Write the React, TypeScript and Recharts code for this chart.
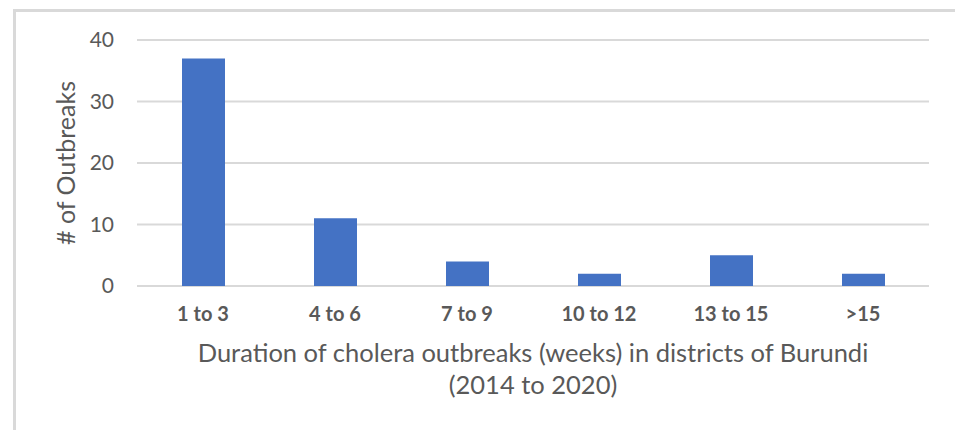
import React from 'react';
import { BarChart, Bar, XAxis, YAxis, CartesianGrid } from 'recharts';

const categories = ['1 to 3', '4 to 6', '7 to 9', '10 to 12', '13 to 15', '>15'];
const outbreaks = [37, 11, 4, 2, 5, 2];
const yTicks = [0, 10, 20, 30, 40];
const xTitleLines = ['Duration of cholera outbreaks (weeks) in districts of Burundi', '(2014 to 2020)'];
const yTitle = '# of Outbreaks';

const data = categories.map((c, i) => ({ name: c, value: outbreaks[i] }));

const FONT = 'Lato, "Open Sans", sans-serif';
const GRAY = '#595959';

const XTitle = (props: any) => {
  const vb = props.viewBox || {};
  const cx = vb.x + vb.width / 2;
  return (
    <text x={cx} y={vb.y + 76} textAnchor="middle" fill={GRAY} fontFamily={FONT} fontSize={25.5}>
      <tspan x={cx} y={vb.y + 76}>{xTitleLines[0]}</tspan>
      <tspan x={cx} y={vb.y + 108}>{xTitleLines[1]}</tspan>
    </text>
  );
};

const YTitle = (props: any) => {
  const vb = props.viewBox || {};
  const cy = vb.y + vb.height / 2;
  const cx = 65;
  return (
    <text
      x={cx}
      y={cy}
      textAnchor="middle"
      dominantBaseline="central"
      transform={`rotate(-90, ${cx}, ${cy})`}
      fill={GRAY}
      fontFamily={FONT}
      fontSize={25}
    >
      {yTitle}
    </text>
  );
};

export default function App() {
  return (
    <div style={{ position: 'fixed', left: 0, top: 0, width: 955, height: 430, background: '#fff' }}>
      <div
        style={{
          position: 'absolute',
          left: 13,
          top: 9,
          right: 0,
          bottom: 0,
          borderTop: '3px solid #d9d9d9',
          borderLeft: '3px solid #d9d9d9',
        }}
      />
      <div style={{ position: 'absolute', left: 0, top: 0 }}>
        <BarChart
          width={955}
          height={430}
          data={data}
          margin={{ top: 40, right: 26, bottom: 0, left: 0 }}
        >
          <CartesianGrid horizontal vertical={false} stroke="#d9d9d9" strokeWidth={2} />
          <XAxis
            dataKey="name"
            height={144}
            axisLine={false}
            tickLine={false}
            tickSize={0}
            tickMargin={21}
            interval={0}
            tick={{ fill: GRAY, fontFamily: FONT, fontSize: 20, fontWeight: 700 }}
            label={{ content: XTitle }}
          />
          <YAxis
            width={137}
            domain={[0, 40]}
            ticks={yTicks}
            axisLine={false}
            tickLine={false}
            tickSize={0}
            tickMargin={23}
            tick={{ fill: GRAY, fontFamily: FONT, fontSize: 21 }}
            label={{ content: YTitle }}
          />
          <Bar dataKey="value" fill="#4472C4" barSize={43} isAnimationActive={false} />
        </BarChart>
      </div>
    </div>
  );
}
